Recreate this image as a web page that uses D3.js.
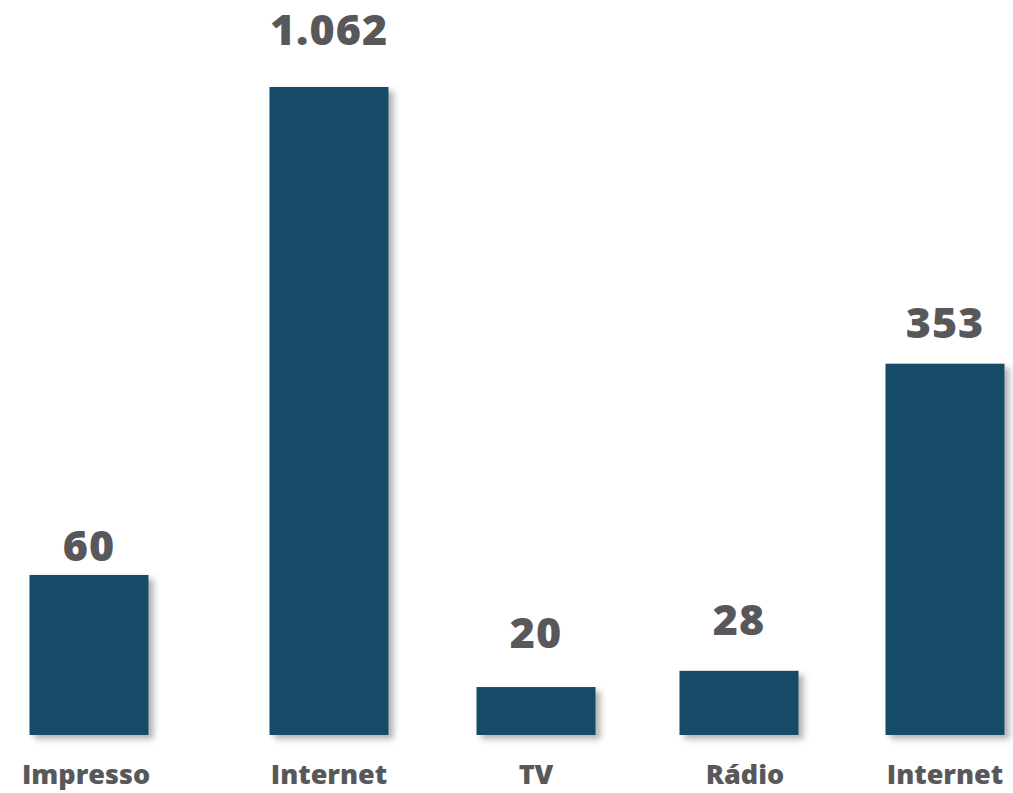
<!DOCTYPE html>
<html><head><meta charset="utf-8">
<script src="https://cdn.jsdelivr.net/npm/d3@7"></script>
<style>html,body{margin:0;padding:0;background:#fff;}svg{display:block;}</style>
</head><body>
<svg id="chart" width="1013" height="793"></svg>
<script>
const categories = ["Impresso", "Internet", "TV", "Rádio", "Internet"];
const values = [60, 1062, 20, 28, 353];
const valueLabels = ["60", "1.062", "20", "28", "353"];

const svg = d3.select("#chart");
const defs = svg.append("defs");
const f = defs.append("filter").attr("id","sh").attr("x","-20%").attr("y","-20%").attr("width","150%").attr("height","150%");
f.append("feDropShadow").attr("dx",5).attr("dy",4).attr("stdDeviation",3).attr("flood-color","#555").attr("flood-opacity",0.45);

const baseY = 735, topY = 87;
// Horizontal slots: the original spaces its columns unevenly.
const slotNudge = [0, 26, 19, 8, 0];
const cx = d3.scalePoint().domain(d3.range(categories.length)).range([89, 945]);
const xc = i => cx(i) + slotNudge[i];
const bw = 119;
// The original infographic is not drawn to a linear scale; a piecewise scale through the sorted values reproduces its bar heights.
const sorted = [0].concat(values.slice().sort((a,b)=>a-b));
const fr = [0, 0.074, 0.099, 0.247, 0.573, 1];
const y = d3.scaleLinear().domain(sorted).range(fr.map(t => baseY - t*(baseY-topY)));

const g = svg.append("g");
g.selectAll("rect.bar").data(values).join("rect")
  .attr("class","bar")
  .attr("x",(d,i)=>xc(i)-bw/2)
  .attr("width",bw)
  .attr("y",d=>y(d))
  .attr("height",d=>baseY-y(d))
  .attr("fill","#144b68")
  .attr("filter","url(#sh)");

const labelGap = [14, 42, 39, 36, 26];
g.selectAll("text.val").data(values).join("text")
  .attr("class","val")
  .attr("x",(d,i)=>xc(i))
  .attr("y",(d,i)=>y(d) - labelGap[i])
  .attr("text-anchor","middle")
  .attr("font-family","'Open Sans', sans-serif")
  .attr("font-weight",800)
  .attr("font-size",43)
  .attr("letter-spacing",1)
  .attr("fill","#58585a")
  .text((d,i)=>valueLabels[i]);

const catNudge = [-3, 0, 0, 6, 0];
g.selectAll("text.cat").data(categories).join("text")
  .attr("class","cat")
  .attr("x",(d,i)=>xc(i) + catNudge[i])
  .attr("y",784)
  .attr("text-anchor","middle")
  .attr("font-family","'Open Sans', sans-serif")
  .attr("font-weight",800)
  .attr("font-size",27)
  .attr("fill","#58585a")
  .text(d=>d);
</script>
</body></html>
